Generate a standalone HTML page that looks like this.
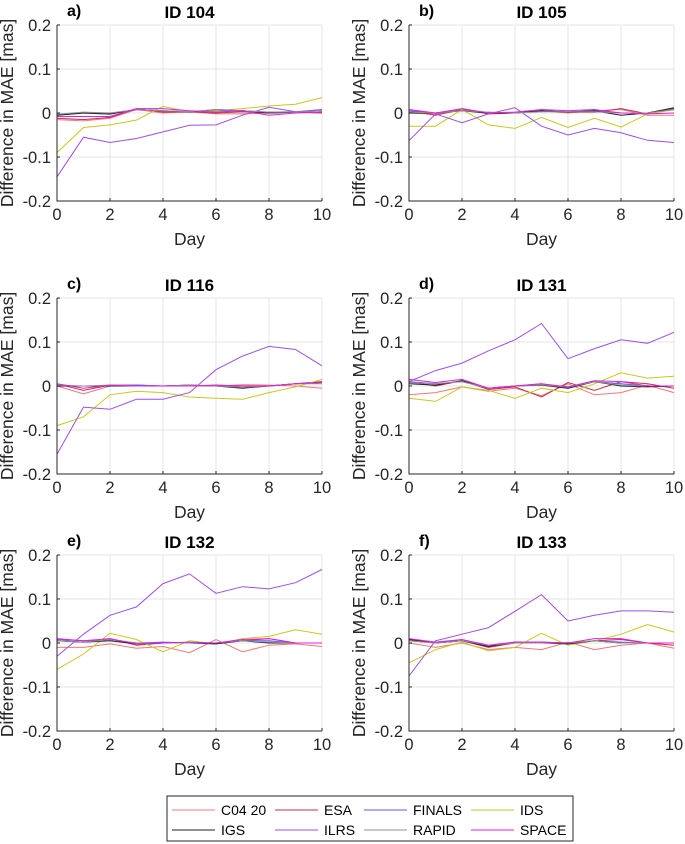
<!DOCTYPE html>
<html><head><meta charset="utf-8">
<style>
body{margin:0;background:#fff;}
svg{display:block;font-family:"Liberation Sans",sans-serif;}
</style></head>
<body>
<svg id="chart" width="685" height="844" viewBox="0 0 685 844"></svg>
<script>
const days=[0,1,2,3,4,5,6,7,8,9,10];
const yTicks=[0.2,0.1,0,-0.1,-0.2];
const yTickLabels=["0.2","0.1","0","-0.1","-0.2"];
const xTicks=[0,2,4,6,8,10];
const panelIds=["ID 104","ID 105","ID 116","ID 131","ID 132","ID 133"];
const panelLetters=["a)","b)","c)","d)","e)","f)"];
const seriesNames=["C04 20","ESA","FINALS","IDS","IGS","ILRS","RAPID","SPACE"];
const seriesColors=["#f07878","#c0304a","#5a5aff","#c8c820","#202020","#9b4fe8","#909090","#e020e0"];
const c04=[
[-0.015,-0.018,-0.012,0.008,0,0.003,-0.002,-0.002,0,0.002,0],
[0,-0.003,0.01,0,0,0.005,0,0.005,0.008,-0.005,-0.005],
[0,-0.018,0,0.002,0,0,0,0.003,0.002,0,-0.005],
[-0.02,-0.015,-0.002,-0.012,-0.005,-0.022,0.005,-0.02,-0.015,0.002,-0.015],
[-0.01,-0.01,-0.002,-0.012,-0.008,-0.022,0.008,-0.02,-0.005,-0.002,-0.008],
[0,-0.01,0,-0.015,-0.01,-0.015,0.002,-0.015,-0.005,0,-0.012]];
const esa=[
[-0.012,-0.015,-0.01,0.01,0.002,0.003,0,0.003,0,0.002,0],
[0.005,-0.005,0.008,-0.002,0,0.005,0.002,0.002,0.01,-0.002,0.01],
[0.005,-0.01,0.002,0.002,0,0,0.002,0,0,0.005,0.01],
[0.01,0,0.012,-0.008,-0.002,-0.025,0.008,-0.01,0.01,0.005,-0.005],
[0.005,0.002,0.01,-0.005,0,0,0,0.005,0.01,0,0],
[0.005,0,0.005,-0.01,0,0.002,0,0.005,0.008,0,-0.005]];
const finals=[
[-0.005,0,-0.003,0.008,0.005,0.003,0.005,0.005,0.002,0.003,0.005],
[0.005,0,0.005,0,0,0.005,0.003,0.005,0,0,0.01],
[0,0,0,0.002,0,0.002,0,0,0,0.005,0.008],
[0.01,0.005,0.01,-0.005,0,0.005,-0.005,0.01,0.005,0,0],
[0.008,0.005,0.008,0,0.002,0,-0.002,0.005,0.005,0,0],
[0.008,0.002,0.005,-0.008,0.002,0.002,-0.002,0.005,0.002,0,0]];
const ids=[
[-0.09,-0.033,-0.027,-0.016,0.015,0.003,0.005,0.01,0.016,0.02,0.035],
[-0.03,-0.03,0.008,-0.027,-0.035,-0.01,-0.033,-0.012,-0.032,-0.002,0.007],
[-0.09,-0.07,-0.02,-0.012,-0.015,-0.025,-0.028,-0.03,-0.015,-0.002,0.015],
[-0.028,-0.035,-0.002,-0.01,-0.028,-0.005,-0.015,0.005,0.03,0.018,0.022],
[-0.06,-0.025,0.022,0.008,-0.02,0.005,-0.002,0.01,0.015,0.03,0.02],
[-0.045,-0.015,0.002,-0.018,-0.01,0.022,-0.005,0.005,0.02,0.042,0.025]];
const igs=[
[-0.005,0,-0.002,0.008,0.005,0.002,0.008,0.005,0,0.002,0.005],
[0,0,0.005,0,0,0.005,0.002,0.005,-0.005,0,0.012],
[0,0,0,0,0,0.002,0,-0.005,0,0.005,0.008],
[0.005,0.002,0.012,-0.005,0,0.002,-0.005,0.01,0,-0.002,0],
[0.005,0.002,0.005,-0.002,0,0,-0.002,0.005,0,0,0],
[0.008,0,0.005,-0.008,0.002,0,-0.002,0.005,0,0,0]];
const ilrs=[
[-0.145,-0.055,-0.067,-0.058,-0.043,-0.028,-0.027,-0.005,0.013,0.003,0.008],
[-0.063,-0.002,-0.022,-0.002,0.012,-0.03,-0.05,-0.035,-0.045,-0.062,-0.067],
[-0.155,-0.048,-0.053,-0.03,-0.03,-0.015,0.037,0.068,0.09,0.083,0.046],
[0.01,0.035,0.052,0.08,0.105,0.142,0.062,0.085,0.105,0.097,0.122],
[-0.03,0.02,0.063,0.082,0.135,0.157,0.113,0.128,0.123,0.137,0.167],
[-0.075,0.005,0.02,0.035,0.072,0.11,0.05,0.063,0.073,0.073,0.07]];
const rapid=[
[-0.003,0.002,0,0.008,0.005,0.003,0.008,0.005,0.002,0.002,0.005],
[0.002,0,0.005,0.002,0,0.003,0.003,0.003,0,0,0.008],
[0.002,0,0.002,0,0,0.002,0,-0.003,0,0.005,0.005],
[0.008,0.005,0.01,-0.005,0,0.003,-0.003,0.01,0.002,0,0],
[0.005,0.002,0.008,0,0,0,0,0.005,0.002,0,0],
[0.005,0,0.005,-0.005,0,0,0,0.005,0,0,0]];
const space=[
[-0.008,-0.008,-0.008,0.01,0.01,0.005,0.002,0.005,-0.005,0,0.002],
[0.008,0,0.01,0,0.002,0.008,0.005,0.008,0,-0.002,0],
[0.005,-0.005,0.002,0,0,0,0.002,0,0,0.005,0.008],
[0.015,0.008,0.015,-0.005,0,0.005,-0.002,0.012,0.01,0,0],
[0.01,0.005,0.01,-0.002,0,0.002,0,0.008,0.01,0,0],
[0.01,0.002,0.008,-0.005,0.002,0.002,0,0.01,0.01,0,0]];
const allSeries=[c04,esa,finals,ids,igs,ilrs,rapid,space];

const NS="http://www.w3.org/2000/svg";
const svg=document.getElementById('chart');
function mk(tag,attrs,parent,text){const e=document.createElementNS(NS,tag);for(const k in attrs)e.setAttribute(k,attrs[k]);if(text!==undefined)e.textContent=text;(parent||svg).appendChild(e);return e;}
const colX=[57,409], rowY=[25,298,555], W=265, H=176;
for(let p=0;p<6;p++){
  const x0=colX[p%2], y0=rowY[Math.floor(p/2)];
  const g=mk('g',{});
  
  
  const sx=v=>x0+v/10*W, sy=v=>y0+(0.2-v)/0.4*H;
  mk('rect',{x:x0,y:y0,width:W,height:H,fill:'#fff'},g);
  xTicks.forEach(t=>{const l=mk('line',{x1:sx(t),x2:sx(t),y1:y0,y2:y0+H,stroke:'#e4e4e4','stroke-width':1},g);});
  yTicks.forEach(t=>{const l=mk('line',{x1:x0,x2:x0+W,y1:sy(t),y2:sy(t),stroke:'#e4e4e4','stroke-width':1},g);});
  allSeries.forEach((s,i)=>{
    const pts=days.map((d,j)=>sx(d).toFixed(1)+','+sy(s[p][j]).toFixed(1)).join(' ');
    const pl=mk('polyline',{points:pts,fill:'none',stroke:seriesColors[i],'stroke-width':1},g);
    
    
  });
  mk('path',{d:`M${x0} ${y0}V${y0+H}H${x0+W}`,fill:'none',stroke:'#262626','stroke-width':1},g);
  xTicks.forEach(t=>{mk('line',{x1:sx(t),x2:sx(t),y1:y0+H,y2:y0+H-3,stroke:'#262626'},g);
    const tx=mk('text',{x:sx(t),y:y0+H+19,'text-anchor':'middle','font-size':16.5,fill:'#262626'},g,String(t));
    });
  yTicks.forEach((t,i)=>{mk('line',{x1:x0,x2:x0+3,y1:sy(t),y2:sy(t),stroke:'#262626'},g);
    const tx=mk('text',{x:x0-6,y:sy(t)+6,'text-anchor':'end','font-size':16.5,fill:'#262626'},g,yTickLabels[i]);
    });
  const xt=mk('text',{x:x0+W/2,y:y0+H+44,'text-anchor':'middle','font-size':17.5,fill:'#262626'},g,'Day');
  
  const yt=mk('text',{x:0,y:0,transform:`translate(${x0-44},${y0+H/2}) rotate(-90)`,'text-anchor':'middle','font-size':17.5,fill:'#262626'},g,'Difference in MAE [mas]');
  
  const tt=mk('text',{x:x0+W/2,y:y0-7,'text-anchor':'middle','font-size':17,'font-weight':'bold',fill:'#000'},g,panelIds[p]);
  
  const lt=mk('text',{x:x0+10,y:y0-9,'font-size':16,'font-weight':'bold',fill:'#000'},g,panelLetters[p]);
  
}
// legend
const lg=mk('g',{});


mk('rect',{x:167,y:796,width:406,height:45,fill:'#fff',stroke:'#262626','stroke-width':1},lg);
const textXs=[221,324,413,520];
seriesNames.forEach((n,i)=>{
  const tx=textXs[i%4], cy=i<4?810:830;
  const e=mk('g',{},lg);
  
  
  mk('line',{x1:tx-49,x2:tx-6,y1:cy,y2:cy,stroke:seriesColors[i],'stroke-width':1},e);
  mk('text',{x:tx,y:cy+5,'font-size':14,fill:'#000'},e,n);
});
</script>
</body></html>
